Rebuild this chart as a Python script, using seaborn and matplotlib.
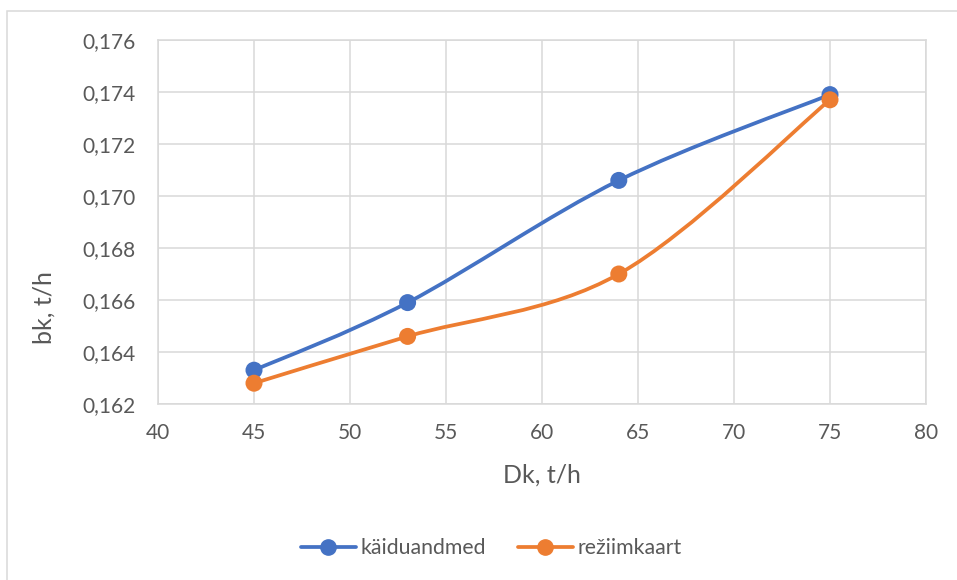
import matplotlib
matplotlib.use("Agg")
import matplotlib.pyplot as plt
from matplotlib.path import Path
from matplotlib.patches import PathPatch, Rectangle
from matplotlib.lines import Line2D
import numpy as np
import pandas as pd
import seaborn as sns

# Data
dk = [45, 53, 64, 75]
kaiduandmed = [0.1633, 0.1659, 0.1706, 0.1739]
reziimkaart = [0.1628, 0.1646, 0.1670, 0.1737]
series_names = ["käiduandmed", "režiimkaart"]
x_ticks = [40, 45, 50, 55, 60, 65, 70, 75, 80]
y_ticks = [0.162, 0.164, 0.166, 0.168, 0.170, 0.172, 0.174, 0.176]

BLUE = "#4472C4"
ORANGE = "#ED7D31"
TEXT = "#595959"
GRID = "#D9D9D9"

sns.set_theme(style="white")
plt.rcParams["font.family"] = ["Lato", "DejaVu Sans"]

W, H = 957, 580
fig = plt.figure(figsize=(W / 100, H / 100), dpi=100)
left, right, top, bottom = 158, 926, 40, 404
ax = fig.add_axes([left / W, 1 - bottom / H, (right - left) / W, (bottom - top) / H])

df = pd.DataFrame({
    "Dk": dk * 2,
    "bk": kaiduandmed + reziimkaart,
    "series": [series_names[0]] * len(dk) + [series_names[1]] * len(dk),
})


def smooth_path(xs, ys):
    """Cubic Bezier path through the points (Catmull-Rom style smoothing)."""
    pts = np.column_stack([xs, ys]).astype(float)
    n = len(pts)
    verts = [tuple(pts[0])]
    codes = [Path.MOVETO]
    for i in range(n - 1):
        p0 = pts[i - 1] if i > 0 else pts[i]
        p1 = pts[i]
        p2 = pts[i + 1]
        p3 = pts[i + 2] if i + 2 < n else pts[i + 1]
        c1 = p1 + (p2 - p0) / 6.0
        c2 = p2 - (p3 - p1) / 6.0
        verts += [tuple(c1), tuple(c2), tuple(p2)]
        codes += [Path.CURVE4] * 3
    return Path(verts, codes)


for name, vals, col in [(series_names[0], kaiduandmed, BLUE),
                        (series_names[1], reziimkaart, ORANGE)]:
    ax.add_patch(PathPatch(smooth_path(dk, vals), facecolor="none",
                           edgecolor=col, lw=2.7, zorder=3,
                           capstyle="round", joinstyle="round"))

sns.scatterplot(data=df, x="Dk", y="bk", hue="series",
                palette=[BLUE, ORANGE], s=150, edgecolor="none",
                ax=ax, legend=False, zorder=4)

ax.set_xlim(40, 80)
ax.set_ylim(0.162, 0.176)
ax.set_xticks(x_ticks)
ax.set_yticks(y_ticks)
ax.set_xticklabels([str(v) for v in x_ticks])
ax.set_yticklabels([f"{v:.3f}".replace(".", ",") for v in y_ticks])
ax.tick_params(axis="both", length=0, labelsize=15, labelcolor=TEXT)
ax.tick_params(axis="x", pad=14)
ax.tick_params(axis="y", pad=16)

ax.grid(True, color=GRID, lw=1.1)
ax.set_axisbelow(True)
for s in ax.spines.values():
    s.set_color(GRID)
    s.set_linewidth(1.1)

ax.set_xlabel("")
ax.set_ylabel("")
fig.text(542 / W, 1 - 475 / H, "Dk, t/h", ha="center", va="center",
         fontsize=18, color=TEXT)
fig.text(44 / W, 1 - 308 / H, "bk, t/h", ha="center", va="center",
         rotation=90, fontsize=18, color=TEXT)

handles = [Line2D([], [], color=BLUE, lw=2.7, marker="o", markersize=11),
           Line2D([], [], color=ORANGE, lw=2.7, marker="o", markersize=11)]
fig.legend(handles, series_names, loc="center", bbox_to_anchor=(491 / W, 1 - 548 / H),
           ncol=2, frameon=False, fontsize=15.3, labelcolor=TEXT,
           handlelength=2.6, handletextpad=0.2, columnspacing=1.5)

# Chart area border
fig.patches.append(Rectangle((7 / W, -0.1), 1.2, 1 - 11 / H + 0.1,
                             transform=fig.transFigure, fill=False,
                             edgecolor=GRID, lw=1.1))

fig.savefig("out.png", dpi=100)
